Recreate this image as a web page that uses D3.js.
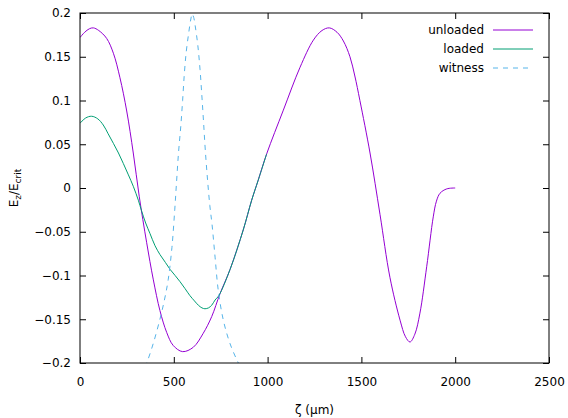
<!DOCTYPE html>
<html><head>
<meta charset="utf-8">
<script src="https://cdn.jsdelivr.net/npm/d3@7"></script>
<style>
body { margin: 0; background: #fff; }
text { font-family: "DejaVu Sans", sans-serif; font-size: 12px; fill: #000; }
.tick line { stroke: #000; }
</style>
</head><body>
<script>

// values
var unloadedZeta = [0, 25, 50, 71, 100, 142, 178, 213, 249, 284, 316, 355, 391, 426, 462, 497, 547, 604, 657, 702, 746, 800, 870, 915, 950, 995, 1084, 1173, 1244, 1290, 1329, 1370, 1404, 1439, 1465, 1492, 1546, 1599, 1652, 1706, 1735, 1759, 1785, 1812, 1848, 1883, 1900, 1919, 1955, 2000];
var unloadedEz = [0.172, 0.178, 0.182, 0.183, 0.180, 0.171, 0.154, 0.126, 0.088, 0.040, -0.010, -0.062, -0.105, -0.140, -0.165, -0.180, -0.187, -0.182, -0.166, -0.147, -0.121, -0.093, -0.048, -0.014, 0.009, 0.039, 0.089, 0.138, 0.169, 0.180, 0.183, 0.178, 0.168, 0.150, 0.128, 0.100, 0.040, -0.030, -0.102, -0.151, -0.170, -0.176, -0.167, -0.143, -0.090, -0.033, -0.015, -0.006, -0.001, 0];

var loadedZeta = [0, 30, 62, 95, 124, 150, 178, 205, 231, 258, 284, 311, 328, 350, 373, 400, 426, 455, 480, 507, 533, 560, 586, 610, 631, 650, 666, 685, 702, 720, 740, 800, 870, 915, 950, 995];
var loadedEz = [0.074, 0.080, 0.082, 0.079, 0.072, 0.062, 0.051, 0.040, 0.028, 0.015, 0.002, -0.014, -0.026, -0.040, -0.052, -0.066, -0.076, -0.085, -0.093, -0.100, -0.107, -0.115, -0.123, -0.129, -0.134, -0.137, -0.138, -0.137, -0.134, -0.128, -0.123, -0.093, -0.048, -0.014, 0.009, 0.039];

var witnessZeta = [320, 355, 390, 426, 450, 470, 490, 505, 515, 525, 537, 547, 556, 566, 578, 590, 598, 606, 615, 628, 640, 650, 659, 668, 680, 692, 704, 720, 737, 764, 800, 844, 880];
var witnessEz = [-0.215, -0.200, -0.178, -0.150, -0.128, -0.105, -0.068, -0.025, 0.008, 0.040, 0.070, 0.100, 0.130, 0.155, 0.175, 0.192, 0.199, 0.195, 0.184, 0.163, 0.135, 0.104, 0.074, 0.043, 0.009, -0.020, -0.042, -0.079, -0.117, -0.151, -0.178, -0.200, -0.215];

var xTicks = [0, 500, 1000, 1500, 2000, 2500];
var yTicks = [-0.2, -0.15, -0.1, -0.05, 0, 0.05, 0.1, 0.15, 0.2];

var series = [
  {name: "unloaded", zeta: unloadedZeta, ez: unloadedEz, color: "#9400d3", dash: null},
  {name: "loaded", zeta: loadedZeta, ez: loadedEz, color: "#009e73", dash: null},
  {name: "witness", zeta: witnessZeta, ez: witnessEz, color: "#56b4e9", dash: "5,5"}
];

var width = 568, height = 418;
var margin = {top: 13, right: 19, bottom: 55, left: 80};
var w = width - margin.left - margin.right,
    h = height - margin.top - margin.bottom;

var svg = d3.select("body").append("svg")
    .attr("width", width)
    .attr("height", height);

var g = svg.append("g")
    .attr("transform", "translate(" + margin.left + "," + margin.top + ")");

var x = d3.scaleLinear().domain([0, 2500]).range([0, w]);
var y = d3.scaleLinear().domain([-0.2, 0.2]).range([h, 0]);

g.append("clipPath").attr("id", "clip")
  .append("rect").attr("width", w).attr("height", h);

// axes, gnuplot style: ticks inside and mirrored
var fmt = function(d) { return d3.format("")(+d.toFixed(2)); };

g.append("g")
    .attr("transform", "translate(0," + h + ")")
    .call(d3.axisBottom(x).tickValues(xTicks).tickSize(-6).tickPadding(14).tickFormat(d3.format("d")));
g.append("g")
    .call(d3.axisTop(x).tickValues(xTicks).tickSize(-6).tickFormat(""));
g.append("g")
    .call(d3.axisLeft(y).tickValues(yTicks).tickSize(-6).tickPadding(9).tickFormat(fmt));
g.append("g")
    .attr("transform", "translate(" + w + ",0)")
    .call(d3.axisRight(y).tickValues(yTicks).tickSize(-6).tickFormat(""));

g.selectAll(".domain").remove();
g.selectAll(".tick text").style("font-family", "DejaVu Sans, sans-serif").style("font-size", "12px");

var line = d3.line()
    .x(function(d) { return x(d[0]); })
    .y(function(d) { return y(d[1]); })
    .curve(d3.curveCatmullRom);

var plot = g.append("g").attr("clip-path", "url(#clip)");

series.forEach(function(s) {
  plot.append("path")
      .datum(s.zeta.map(function(z, i) { return [z, s.ez[i]]; }))
      .attr("fill", "none")
      .attr("stroke", s.color)
      .attr("stroke-width", 1)
      .attr("stroke-dasharray", s.dash)
      .attr("d", line);
});

g.append("rect")
    .attr("width", w)
    .attr("height", h)
    .attr("fill", "none")
    .attr("stroke", "#000")
    .attr("stroke-width", 1);

// legend
var legend = g.append("g");
series.forEach(function(s, i) {
  var ly = 17 + i * 19;
  legend.append("text")
      .attr("x", 404)
      .attr("y", ly)
      .attr("dy", "0.35em")
      .attr("text-anchor", "end")
      .text(s.name);
  legend.append("line")
      .attr("x1", 413).attr("x2", 453)
      .attr("y1", ly).attr("y2", ly)
      .attr("stroke", s.color)
      .attr("stroke-width", 1)
      .attr("stroke-dasharray", s.dash);
});

// axis titles
svg.append("text")
    .attr("x", margin.left + w / 2)
    .attr("y", 414)
    .attr("text-anchor", "middle")
    .text("ζ (µm)");

var yl = svg.append("text")
    .attr("transform", "translate(18," + (margin.top + h / 2) + ") rotate(-90)")
    .attr("text-anchor", "middle");
yl.append("tspan").text("E");
yl.append("tspan").attr("dy", 3).style("font-size", "9px").text("z");
yl.append("tspan").attr("dy", -3).text("/E");
yl.append("tspan").attr("dy", 3).style("font-size", "9px").text("crit");

</script>
</body></html>
